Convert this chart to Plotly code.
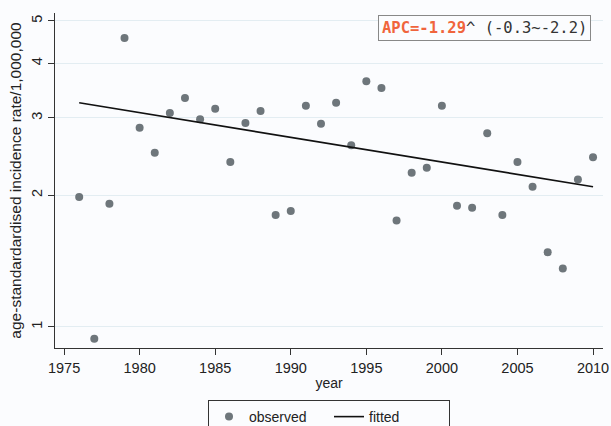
import plotly.graph_objects as go
import math

years = list(range(1976, 2011))
observed = [1.98, 0.94, 1.91, 4.57, 2.85, 2.50, 3.08, 3.33, 2.98, 3.15,
            2.38, 2.92, 3.11, 1.80, 1.84, 3.20, 2.91, 3.25, 2.60, 3.64,
            3.51, 1.75, 2.25, 2.31, 3.20, 1.89, 1.87, 2.77, 1.80, 2.38,
            2.09, 1.48, 1.36, 2.17, 2.44]
fit_years = [1976, 2010]
fitted = [3.25, 2.09]
x_ticks = [1975, 1980, 1985, 1990, 1995, 2000, 2005, 2010]
y_ticks = [1, 2, 3, 4, 5]

FONT = "Liberation Sans, Arial, sans-serif"

fig = go.Figure()
fig.add_trace(go.Scatter(x=years, y=observed, mode="markers", name="observed",
                         marker=dict(color="#6e767b", size=8)))
fig.add_trace(go.Scatter(x=fit_years, y=fitted, mode="lines", name="fitted",
                         line=dict(color="#111111", width=1.6)))

fig.update_layout(
    width=611, height=426,
    margin=dict(l=55, r=8, t=13, b=78),
    paper_bgcolor="#fbfcfe", plot_bgcolor="#fbfcfe",
    font=dict(family=FONT, size=14, color="#222222"),
    showlegend=True,
    legend=dict(orientation="h", x=0.5, xanchor="center", yref="container",
                y=0.061, yanchor="top",
                bordercolor="#333333", borderwidth=1, bgcolor="#fbfcfe",
                font=dict(size=14), entrywidth=75),
    xaxis=dict(range=[1974.4, 2010.66], tickvals=x_ticks, ticks="outside", ticklen=6,
               tickcolor="#333333", showline=True, linecolor="#333333", linewidth=1.2,
               showgrid=False, zeroline=False, automargin=False,
               tickfont=dict(size=14.5),
               title=dict(text="year", font=dict(size=14), standoff=3)),
    yaxis=dict(type="log", range=[math.log10(0.895), math.log10(5.21)], tickvals=y_ticks,
               ticktext=[str(v) for v in y_ticks], tickangle=-90,
               ticks="outside", ticklen=6, tickcolor="#333333",
               showline=True, linecolor="#333333", linewidth=1.2,
               showgrid=True, gridcolor="#e3edf2", gridwidth=1, zeroline=False,
               automargin=False, tickfont=dict(size=14.5),
               title=dict(text="age-standardardised incidence rate/1,000,000",
                          font=dict(size=15.5), standoff=3)),
)

fig.add_annotation(xref="paper", yref="paper", x=0.978, y=0.995,
                   xanchor="right", yanchor="top", showarrow=False,
                   text='<span style="color:#f0643c"><b>APC=-1.29</b></span>^ (-0.3~-2.2)',
                   font=dict(family="DejaVu Sans Mono, monospace", size=15.5, color="#333333"),
                   bordercolor="#888888", borderwidth=1, borderpad=3, bgcolor="#fbfcfe")

fig.write_html("out.html", config={"displayModeBar": False},
               post_script="document.body.style.margin='0';document.body.style.overflow='hidden';")
